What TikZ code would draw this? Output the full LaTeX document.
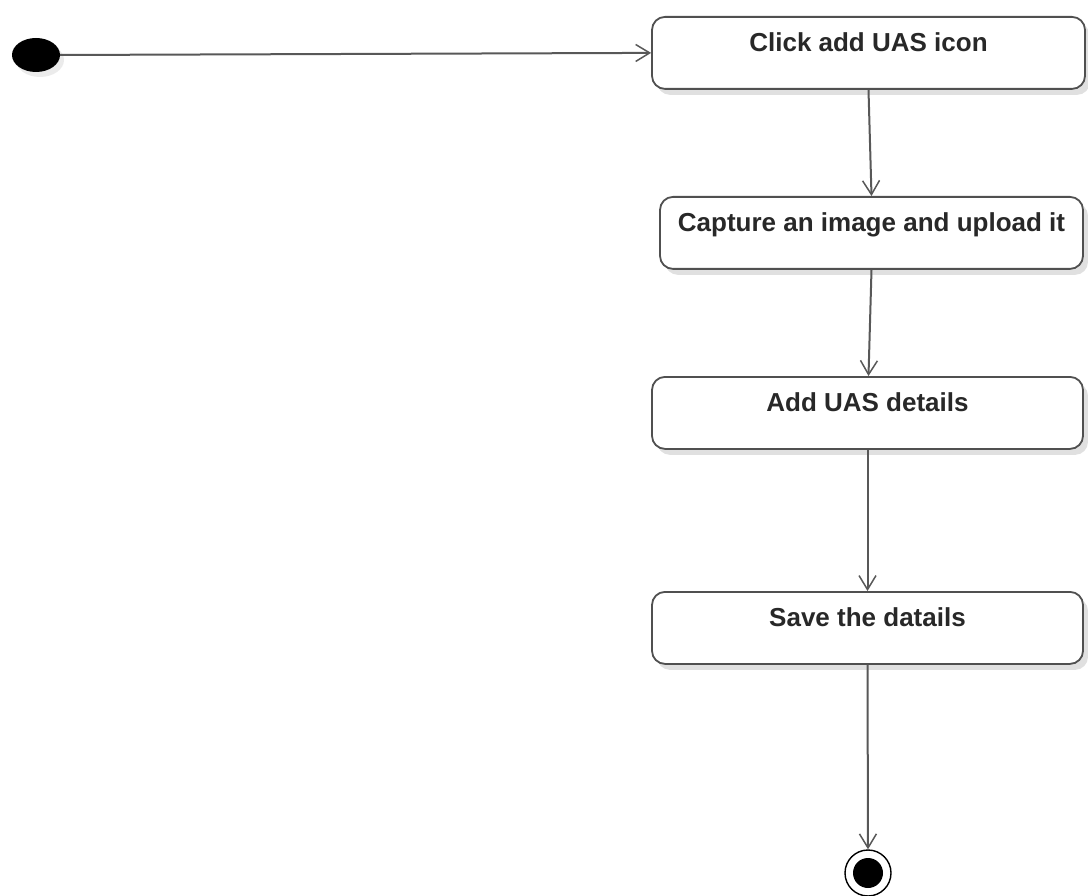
\documentclass[tikz,border=0pt]{standalone}
\usepackage{fontspec}
\setmainfont{Liberation Sans}
\usetikzlibrary{arrows.meta,shadows,shapes.geometric}
\definecolor{edgegray}{RGB}{88,88,88}
\definecolor{boxline}{RGB}{80,80,80}
\definecolor{txtgray}{RGB}{40,40,40}
\tikzset{
  activity/.style={draw=boxline, line width=1.8pt, rounded corners=13pt, fill=white,
    inner sep=0pt, anchor=north, text height=35pt, text depth=37pt,
    font=\fontsize{26}{30}\selectfont\bfseries, text=txtgray,
    drop shadow={shadow xshift=5pt, shadow yshift=-6pt, opacity=0.12, fill=black}},
  flow/.style={draw=edgegray, line width=2pt, -{Straight Barb[length=14pt,width=17pt,line width=1.5pt]}},
  startdot/.style={ellipse, fill=black, minimum width=48pt, minimum height=34pt, inner sep=0pt,
    drop shadow={shadow xshift=4pt, shadow yshift=-5pt, opacity=0.08, fill=black}},
  enddot/.style={circle, fill=black, minimum size=30pt, inner sep=0pt}
}
\begin{document}
\begin{tikzpicture}[x=1pt, y=-1pt]
  \useasboundingbox (0,0) rectangle (1088,896);

  % initial state
  \node[startdot] (init) at (36,55) {};

  % activities
  \node[activity, minimum width=433pt] (click) at (868.5,16) {Click add UAS icon};
  \node[activity, minimum width=423pt] (capture) at (871.5,196) {Capture an image and upload it};
  \node[activity, minimum width=431pt] (details) at (867.5,376) {Add UAS details};
  \node[activity, minimum width=431pt] (save) at (867.5,591) {Save the datails};

  % final state
  \node[circle, draw=black, line width=1.4pt, fill=white, minimum size=46pt, inner sep=0pt] (final) at (868,873) {};
  \node[enddot] (finaldot) at (final.center) {};

  % control flow
  \draw[flow] (init.east) -- (click.west);
  \draw[flow] (click.south) -- (capture.north);
  \draw[flow] (capture.south) -- ([xshift=1pt]details.north);
  \draw[flow] (details.south) -- (save.north);
  \draw[flow] (save.south) -- (final.north);
\end{tikzpicture}
\end{document}
